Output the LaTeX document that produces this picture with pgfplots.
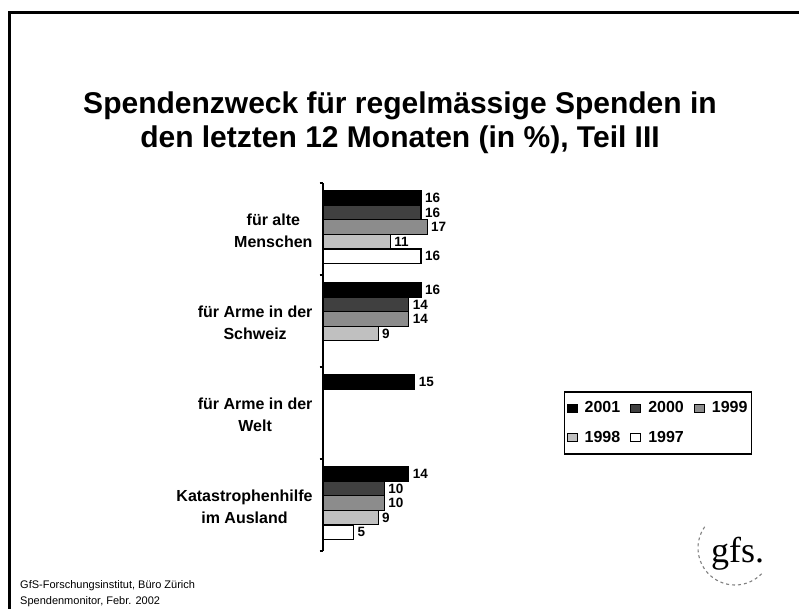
\documentclass[border=0pt]{standalone}
\usepackage{pgfplots}
\pgfplotsset{compat=1.18}
\usepackage{fontspec}
\setmainfont{Liberation Sans}
\newfontfamily\logofont{Liberation Serif}
\definecolor{c2001}{HTML}{000000}
\definecolor{c2000}{HTML}{404040}
\definecolor{c1999}{HTML}{8C8C8C}
\definecolor{c1998}{HTML}{C0C0C0}
\definecolor{c1997}{HTML}{FFFFFF}
\begin{document}
\begin{tikzpicture}
\useasboundingbox (0bp,0bp) rectangle (799bp,-609bp);
\draw[line width=3bp] (9.5bp,-609bp) -- (9.5bp,-12.5bp) -- (799bp,-12.5bp);
\node[anchor=base, inner sep=0pt, font=\bfseries\fontsize{30bp}{34bp}\selectfont] at (400bp,-113bp) {Spendenzweck für regelmässige Spenden in};
\node[anchor=base, inner sep=0pt, font=\bfseries\fontsize{30bp}{34bp}\selectfont] at (400bp,-147bp) {den letzten 12 Monaten (in \%), Teil III};
\node[anchor=base west, inner sep=0pt, font=\fontsize{11bp}{13bp}\selectfont] at (20bp,-588bp) {GfS-Forschungsinstitut, Büro Zürich};
\node[anchor=base west, inner sep=0pt, font=\fontsize{11bp}{13bp}\selectfont] at (20bp,-604bp) {Spendenmonitor, Febr. 2002};
\draw[gray, dashed, line width=1.1bp] (735bp,-548bp) ++(145:37bp) arc[start angle=145, end angle=316, radius=37bp];
\node[anchor=base west, inner sep=0pt, font=\logofont\fontsize{36bp}{40bp}\selectfont] at (711bp,-562bp) {gfs.};
\begin{axis}[
  at={(323bp,-551bp)}, anchor=south west,
  scale only axis, width=122.5bp, height=368bp,
  xmin=0, xmax=20, ymin=-0.5, ymax=3.5, y dir=reverse,
  axis x line=none, axis y line*=left,
  xbar, bar width=14.5bp,
  ytick={-0.5,0.5,1.5,2.5,3.5}, yticklabels={},
  tick align=outside, major tick length=3.5bp,
  y axis line style={line width=1.5bp},
  ytick style={line width=1.2bp, black},
  extra y ticks={0,1,2,3},
  extra y tick labels={{für alte\\Menschen},{für Arme in der\\Schweiz},{für Arme in der\\Welt},{Katastrophenhilfe\\im Ausland}},
  extra y tick style={major tick length=0pt, yticklabel style={align=center, anchor=east, font=\bfseries\fontsize{16bp}{22bp}\selectfont, xshift=-7bp, yshift=-2bp}},
  nodes near coords,
  /pgf/number format/assume math mode=true,
  every node near coord/.append style={font=\bfseries\fontsize{13.5bp}{14bp}\selectfont, anchor=west, inner xsep=3.5bp, inner ysep=2bp, black},
  clip=false,
  legend columns=3,
  legend style={at={(1.967,0.4348)}, anchor=north west, draw=black, line width=1.5bp,
    font=\bfseries\fontsize{16bp}{18bp}\selectfont, inner xsep=2bp, inner ysep=8bp, row sep=13bp,
    /tikz/every odd column/.append style={column sep=5bp},
    /tikz/every even column/.append style={column sep=8bp}, cells={anchor=west}},
  legend image code/.code={\draw[#1, line width=1bp] (0bp,-4bp) rectangle (10bp,4bp);},
]
\addplot[fill=c2001, draw=black, line width=1.2bp, bar shift=31.2bp] coordinates {(16,0) (16,1) (15,2) (14,3)};
\addplot[fill=c2000, draw=black, line width=1.2bp, bar shift=16.6bp] coordinates {(16,0) (14,1) (10,3)};
\addplot[fill=c1999, draw=black, line width=1.2bp, bar shift=2bp] coordinates {(17,0) (14,1) (10,3)};
\addplot[fill=c1998, draw=black, line width=1.2bp, bar shift=-12.6bp] coordinates {(11,0) (9,1) (9,3)};
\addplot[fill=c1997, draw=black, line width=1.2bp, bar shift=-27.2bp] coordinates {(16,0) (5,3)};
\legend{2001,2000,1999,1998,1997}
\end{axis}
\end{tikzpicture}
\end{document}
